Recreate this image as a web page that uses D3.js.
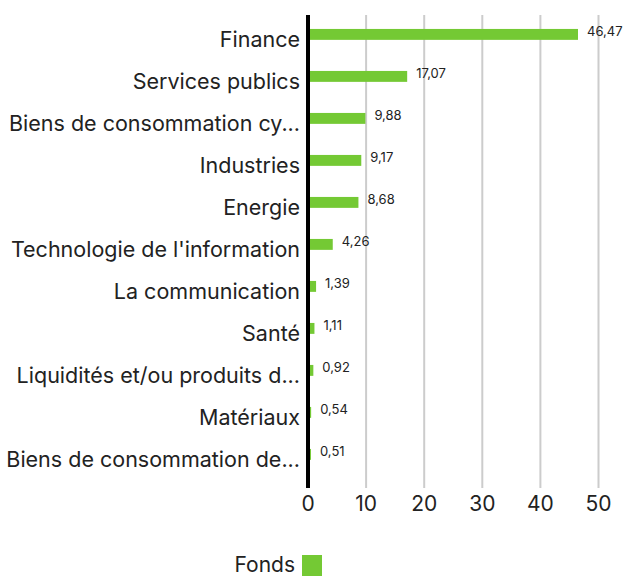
<!DOCTYPE html>
<html>
<head>
<meta charset="utf-8">
<script src="https://cdn.jsdelivr.net/npm/d3@7.9.0/dist/d3.min.js"></script>
<style>
  body { margin: 0; background: #fff; }
  svg { font-family: Inter, "Noto Sans", sans-serif; }
</style>
</head>
<body>
<div id="chart"></div>
<script>
const categories = [
  "Finance", "Services publics", "Biens de consommation cy...", "Industries",
  "Energie", "Technologie de l'information", "La communication", "Santé",
  "Liquidités et/ou produits d...", "Matériaux", "Biens de consommation de..."
];
const values = [46.47, 17.07, 9.88, 9.17, 8.68, 4.26, 1.39, 1.11, 0.92, 0.54, 0.51];
const xTicks = [0, 10, 20, 30, 40, 50];
const seriesName = "Fonds";

const width = 627, height = 576;
const green = "#74c934";

const svg = d3.select("#chart").append("svg")
  .attr("width", width).attr("height", height);

const x = d3.scaleLinear().domain([0, 50]).range([308, 598.5]);
const y = d3.scaleBand().domain(categories).range([13.4, 475.4]).paddingInner(0.74).paddingOuter(0.37);

// gridlines
svg.append("g").selectAll("line")
  .data(xTicks.slice(1))
  .join("line")
  .attr("x1", d => x(d)).attr("x2", d => x(d))
  .attr("y1", 15).attr("y2", 488)
  .attr("stroke", "#cccccc").attr("stroke-width", 2);

// x tick labels
svg.append("g").selectAll("text")
  .data(xTicks)
  .join("text")
  .attr("x", d => x(d)).attr("y", 511)
  .attr("text-anchor", "middle")
  .style("font-size", "21px").attr("fill", "#222")
  .text(d => d);

// bars
svg.append("g").selectAll("rect")
  .data(values)
  .join("rect")
  .attr("x", x(0))
  .attr("y", (d, i) => y(categories[i]))
  .attr("width", d => x(d) - x(0))
  .attr("height", y.bandwidth())
  .attr("fill", green);

// value labels
svg.append("g").selectAll("text")
  .data(values)
  .join("text")
  .attr("x", d => x(d) + 9)
  .attr("y", (d, i) => y(categories[i]) + y.bandwidth() / 2 + 2)
  .style("font-size", "13px").attr("fill", "#222")
  .text(d => d3.format(".2f")(d).replace(".", ","));

// category labels
svg.append("g").selectAll("text")
  .data(categories)
  .join("text")
  .attr("x", 300)
  .attr("y", d => y(d) + y.bandwidth() / 2 + 12.5)
  .attr("text-anchor", "end")
  .style("font-size", "21.5px").attr("fill", "#222")
  .text(d => d);

// axis line
svg.append("line")
  .attr("x1", x(0)).attr("x2", x(0))
  .attr("y1", 15).attr("y2", 488)
  .attr("stroke", "#000").attr("stroke-width", 4);

// legend
svg.append("text")
  .attr("x", 295).attr("y", 572)
  .attr("text-anchor", "end")
  .style("font-size", "21px").attr("fill", "#222")
  .text(seriesName);
svg.append("rect")
  .attr("x", 302).attr("y", 555)
  .attr("width", 20).attr("height", 21)
  .attr("fill", green);
</script>
</body>
</html>
